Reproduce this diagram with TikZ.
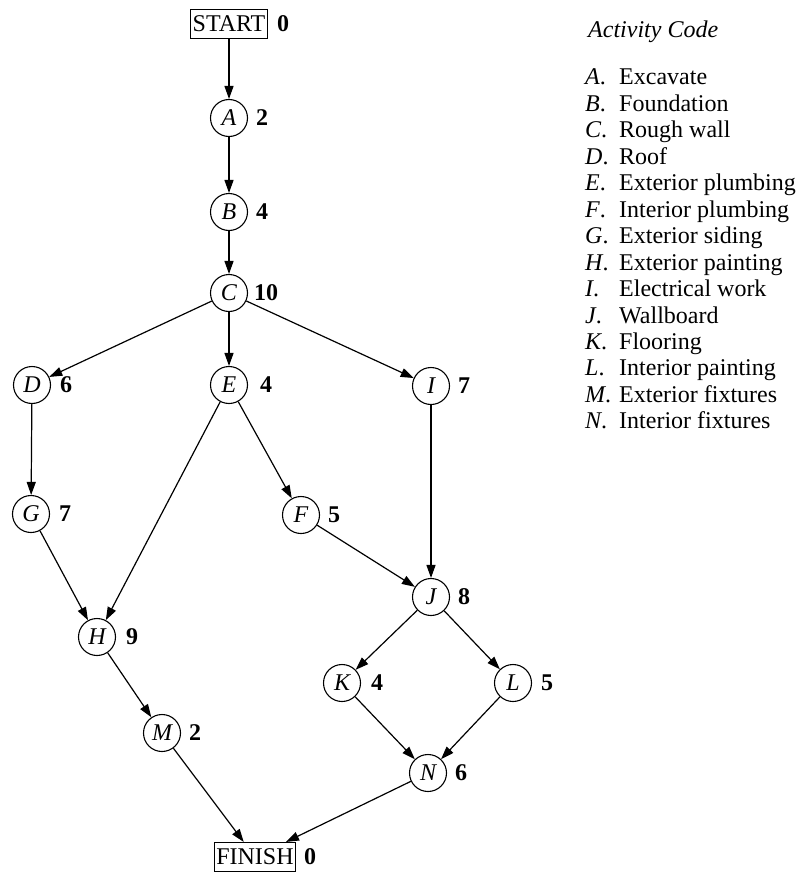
\documentclass[tikz,border=0pt]{standalone}
\usepackage{fontspec}
\setmainfont{Liberation Serif}
\usetikzlibrary{arrows.meta}
\begin{document}
\begin{tikzpicture}[x=1pt,y=-1pt,
  every node/.style={font=\fontsize{24}{26.5}\selectfont},
  act/.style={draw,circle,line width=1.1pt,minimum size=37pt,inner sep=0pt,font=\fontsize{24}{26.5}\selectfont\itshape},
  term/.style={draw,rectangle,line width=1.1pt,inner sep=2pt,minimum height=29pt},
  dur/.style={font=\fontsize{24}{26.5}\selectfont\bfseries},
  conn/.style={line width=1.2pt,-{Triangle[length=13pt,width=9pt]}},
  lg/.style={anchor=base west,inner sep=0pt}]
\useasboundingbox (0,0) rectangle (798,872);
% activities
\node[term] (start) at (229,24) {START};
\node[act] (A) at (229,118) {A};
\node[act] (B) at (229,212) {B};
\node[act] (C) at (229,293) {C};
\node[act] (D) at (32,385) {D};
\node[act] (E) at (229,385) {E};
\node[act] (I) at (431,386) {I};
\node[act] (G) at (31,514) {G};
\node[act] (F) at (301,515) {F};
\node[act] (J) at (431,597) {J};
\node[act] (H) at (97,637) {H};
\node[act] (K) at (342,683) {K};
\node[act] (L) at (513,683) {L};
\node[act] (M) at (162,733) {M};
\node[act] (N) at (428,773) {N};
\node[term] (finish) at (255,857) {FINISH};
% durations
\node[dur] (d0) at (283,24) {0};
\node[dur] (dA) at (262,118) {2};
\node[dur] (dB) at (262,212) {4};
\node[dur] (dC) at (266,293) {10};
\node[dur] (dD) at (66,385) {6};
\node[dur] (dE) at (266,385) {4};
\node[dur] (dI) at (464,386) {7};
\node[dur] (dG) at (65,514) {7};
\node[dur] (dF) at (334,515) {5};
\node[dur] (dJ) at (464,597) {8};
\node[dur] (dH) at (132,637) {9};
\node[dur] (dK) at (377,683) {4};
\node[dur] (dL) at (547,683) {5};
\node[dur] (dM) at (195,733) {2};
\node[dur] (dN) at (461,773) {6};
\node[dur] (dF0) at (310,857) {0};
% connectors
\draw[conn] (start) -- (A);
\draw[conn] (A) -- (B);
\draw[conn] (B) -- (C);
\draw[conn] (C) -- (D);
\draw[conn] (C) -- (E);
\draw[conn] (C) -- (I);
\draw[conn] (D) -- (G);
\draw[conn] (E) -- (H);
\draw[conn] (E) -- (F);
\draw[conn] (I) -- (J);
\draw[conn] (G) -- (H);
\draw[conn] (F) -- (J);
\draw[conn] (H) -- (M);
\draw[conn] (J) -- (K);
\draw[conn] (J) -- (L);
\draw[conn] (K) -- (N);
\draw[conn] (L) -- (N);
\draw[conn] (M) -- (finish);
\draw[conn] (N) -- (finish);
% legend
\node[lg,font=\fontsize{24}{26.5}\selectfont\itshape] (lgt) at (588,38) {Activity Code};
\foreach \n/\l/\t [count=\i from 0] in {a/A/Excavate,b/B/Foundation,c/C/Rough wall,d/D/Roof,e/E/Exterior plumbing,f/F/Interior plumbing,g/G/Exterior siding,h/H/Exterior painting,i/I/Electrical work,j/J/Wallboard,k/K/Flooring,l/L/Interior painting,m/M/Exterior fixtures,n/N/Interior fixtures}{
  \node[lg] (lk\n) at (585,{85+26.45*\i}) {\textit{\l}.};
  \node[lg] (lt\n) at (619,{85+26.45*\i}) {\t};
}
\end{tikzpicture}
\end{document}
